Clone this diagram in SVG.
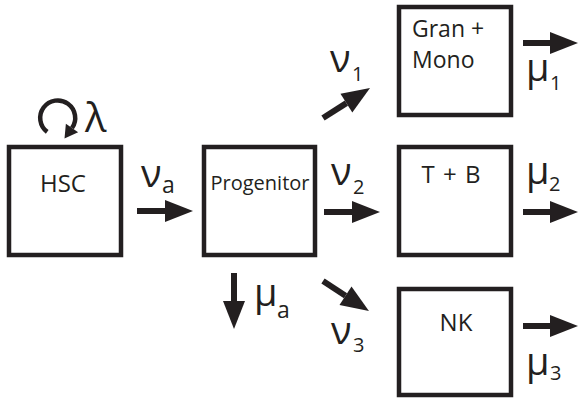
<svg xmlns="http://www.w3.org/2000/svg" width="578" height="398" viewBox="0 0 578 398">
<style>
.box{fill:#fff;stroke:#231f20;stroke-width:4.5}
.lbl{font-family:"Open Sans","Liberation Sans",sans-serif;fill:#231f20}
.t20{font-size:20px}
.t23{font-size:23px}
.t24{font-size:24px}
.gk{font-family:"Open Sans","DejaVu Sans",sans-serif;font-size:38px;fill:#231f20}
.lam{font-family:"Open Sans","DejaVu Sans",sans-serif;font-size:40px;fill:#231f20}
.sb{font-family:"Open Sans","Liberation Sans",sans-serif;font-size:20px;fill:#231f20}
.sa{font-family:"Open Sans","Liberation Sans",sans-serif;font-size:23px;fill:#231f20}
.shaft{stroke:#231f20;stroke-width:6;fill:none}
.loop{stroke:#231f20;stroke-width:4.5;fill:none}
</style>
<defs>
<marker id="ah" markerUnits="userSpaceOnUse" markerWidth="30" markerHeight="24" refX="0" refY="11" orient="auto" overflow="visible">
<path d="M0,0 L28,11 L0,22 z" fill="#231f20"/>
</marker>
<marker id="ahs" markerUnits="userSpaceOnUse" markerWidth="16" markerHeight="16" refX="0" refY="7.5" orient="auto" overflow="visible">
<path d="M0,0 L13,7.5 L0,15 z" fill="#231f20"/>
</marker>
</defs>

<g id="HSC">
<rect class="box" x="9" y="147" width="112" height="108"/>
<text class="lbl t24" x="63" y="192" text-anchor="middle">HSC</text>
</g>
<g id="Progenitor">
<rect class="box" x="204" y="147" width="111" height="108"/>
<text class="lbl t20" x="260" y="190" text-anchor="middle">Progenitor</text>
</g>
<g id="GranMono">
<rect class="box" x="399" y="7" width="112" height="108"/>
<text class="lbl t23" x="412" y="37">Gran +</text>
<text class="lbl t23" x="412" y="68">Mono</text>
</g>
<g id="TB">
<rect class="box" x="399" y="147" width="112" height="108"/>
<text class="lbl t24" x="451" y="183" text-anchor="middle" word-spacing="2">T + B</text>
</g>
<g id="NK">
<rect class="box" x="399" y="289" width="112" height="106"/>
<text class="lbl t24" x="456" y="331" text-anchor="middle">NK</text>
</g>

<g id="connectors">
<path class="loop" d="M47.2,131.9 A17.5 17.5 0 1 1 72,128" marker-end="url(#ahs)"/>
<line class="shaft" x1="137" y1="211" x2="165" y2="211" marker-end="url(#ah)"/>
<line class="shaft" x1="324" y1="212" x2="352" y2="212" marker-end="url(#ah)"/>
<line class="shaft" x1="523" y1="43" x2="550" y2="43" marker-end="url(#ah)"/>
<line class="shaft" x1="523" y1="212" x2="550" y2="212" marker-end="url(#ah)"/>
<line class="shaft" x1="523" y1="326" x2="550" y2="326" marker-end="url(#ah)"/>
<line class="shaft" x1="234" y1="273" x2="234" y2="301" marker-end="url(#ah)"/>
<line class="shaft" x1="323" y1="118" x2="346.4" y2="103.1" marker-end="url(#ah)"/>
<line class="shaft" x1="323" y1="281" x2="345.5" y2="295.7" marker-end="url(#ah)"/>
</g>

<g id="labels">
<text class="lam" x="85" y="132">λ</text>
<text><tspan class="gk" x="141" y="187">ν</tspan><tspan class="sa" x="162" y="193">a</tspan></text>
<text><tspan class="gk" x="330" y="72">ν</tspan><tspan class="sb" x="352" y="81">1</tspan></text>
<text><tspan class="gk" x="331" y="185">ν</tspan><tspan class="sb" x="353" y="194">2</tspan></text>
<text><tspan class="gk" x="331" y="344">ν</tspan><tspan class="sb" x="353" y="352">3</tspan></text>
<text><tspan class="gk" x="254" y="306">μ</tspan><tspan class="sa" x="277" y="318">a</tspan></text>
<text><tspan class="gk" x="526" y="81">μ</tspan><tspan class="sb" x="550" y="90">1</tspan></text>
<text><tspan class="gk" x="526" y="184">μ</tspan><tspan class="sb" x="549" y="191">2</tspan></text>
<text><tspan class="gk" x="526" y="375">μ</tspan><tspan class="sb" x="550" y="380">3</tspan></text>
</g>
</svg>
